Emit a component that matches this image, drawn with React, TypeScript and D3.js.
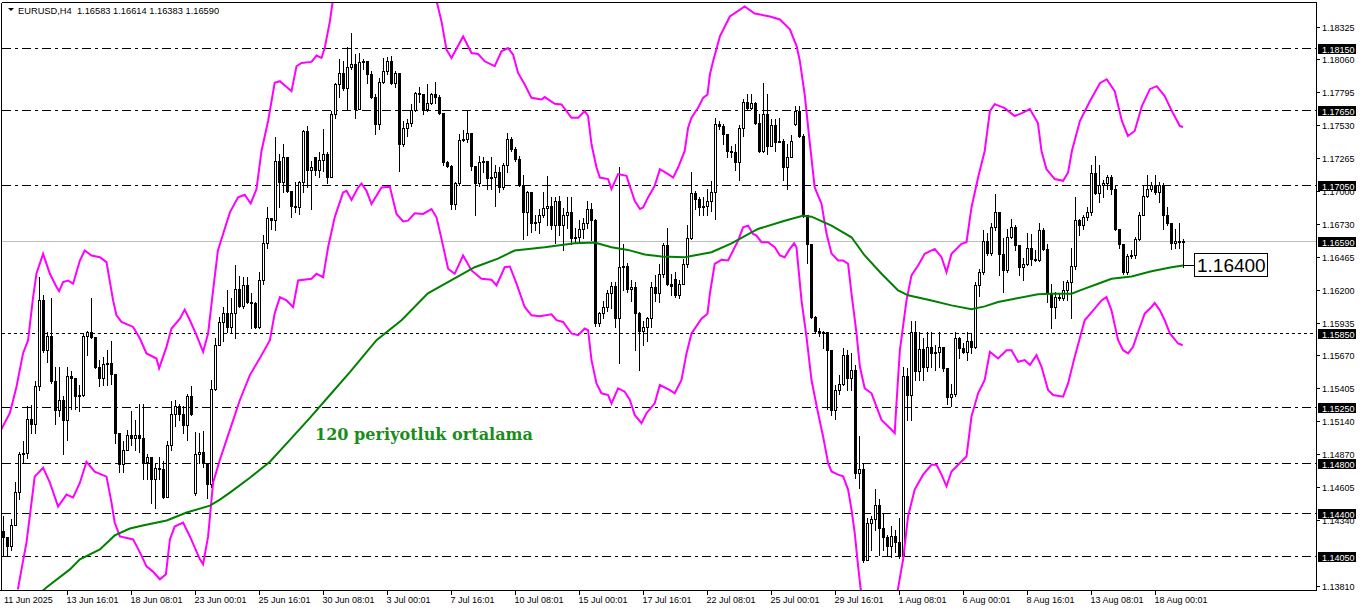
import React from "react";
import * as d3 from "d3";

// ---------------- DATA ----------------
const symbolTitle = "EURUSD,H4  1.16583 1.16614 1.16383 1.16590";

const closes = [
  1.1420, 1.1413, 1.1430, 1.1457, 1.1487, 1.1488, 1.1516, 1.1512, 1.1542, 1.1612,
  1.1571, 1.1583, 1.1546, 1.1523, 1.1531, 1.1515, 1.1550, 1.1549, 1.1534, 1.1535,
  1.1583, 1.1586, 1.1582, 1.1558, 1.1549, 1.1560, 1.1561, 1.1552, 1.1504, 1.1479,
  1.1491, 1.1503, 1.1500, 1.1503, 1.1500, 1.1481, 1.1485, 1.1467, 1.1476, 1.1475,
  1.1453, 1.1495, 1.1520, 1.1526, 1.1520, 1.1511, 1.1534, 1.1520, 1.1487, 1.1489,
  1.1480, 1.1463, 1.1540, 1.1575, 1.1594, 1.1601, 1.1590, 1.1601, 1.1621, 1.1607,
  1.1624, 1.1610, 1.1609, 1.1590, 1.1628, 1.1658, 1.1678, 1.1676, 1.1724, 1.1707,
  1.1727, 1.1700, 1.1688, 1.1687, 1.1707, 1.1748, 1.1717, 1.1719, 1.1717, 1.1725,
  1.1730, 1.1711, 1.1762, 1.1786, 1.1795, 1.1783, 1.1800, 1.1802, 1.1766, 1.1804,
  1.1805, 1.1794, 1.1776, 1.1754, 1.1788, 1.1797, 1.1805, 1.1787, 1.1795, 1.1738,
  1.1751, 1.1755, 1.1765, 1.1779, 1.1778, 1.1766, 1.1771, 1.1778, 1.1776, 1.1763,
  1.1723, 1.1720, 1.1689, 1.1706, 1.1741, 1.1742, 1.1747, 1.1720, 1.1706, 1.1723,
  1.1724, 1.1710, 1.1711, 1.1715, 1.1703, 1.1721, 1.1742, 1.1734, 1.1726, 1.1705,
  1.1683, 1.1699, 1.1674, 1.1675, 1.1680, 1.1686, 1.1688, 1.1672, 1.1692, 1.1672,
  1.1680, 1.1683, 1.1662, 1.1663, 1.1669, 1.1674, 1.1685, 1.1676, 1.1593, 1.1601,
  1.1606, 1.1617, 1.1623, 1.1597, 1.1638, 1.1639, 1.1621, 1.1622, 1.1601, 1.1587,
  1.1590, 1.1597, 1.1622, 1.1617, 1.1633, 1.1656, 1.1625, 1.1623, 1.1616, 1.1625,
  1.1641, 1.1662, 1.1698, 1.1693, 1.1687, 1.1688, 1.1692, 1.1699, 1.1754, 1.1752,
  1.1746, 1.1732, 1.1731, 1.1723, 1.1751, 1.1772, 1.1767, 1.1771, 1.1755, 1.1732,
  1.1762, 1.1736, 1.1753, 1.1739, 1.1740, 1.1719, 1.1727, 1.1740, 1.1764, 1.1744,
  1.1680, 1.1657, 1.1598, 1.1587, 1.1585, 1.1586, 1.1571, 1.1523, 1.1539, 1.1544,
  1.1567, 1.1549, 1.1555, 1.1472, 1.1475, 1.1402, 1.1432, 1.1435, 1.1446, 1.1428,
  1.1420, 1.1413, 1.1421, 1.1416, 1.1405, 1.1550, 1.1535, 1.1586, 1.1554, 1.1572,
  1.1558, 1.1574, 1.1569, 1.1570, 1.1574, 1.1557, 1.1533, 1.1536, 1.1581, 1.1573,
  1.1570, 1.1579, 1.1574, 1.1624, 1.1634, 1.1659, 1.1650, 1.1671, 1.1683, 1.1649,
  1.1636, 1.1663, 1.1671, 1.1656, 1.1638, 1.1641, 1.1654, 1.1645, 1.1644, 1.1668,
  1.1653, 1.1617, 1.1606, 1.1614, 1.1613, 1.1620, 1.1626, 1.1639, 1.1676, 1.1672,
  1.1679, 1.1683, 1.1714, 1.1698, 1.1705, 1.1706, 1.1711, 1.1701, 1.1669, 1.1657,
  1.1634, 1.1647, 1.1648, 1.1661, 1.1680, 1.1696, 1.1701, 1.1705, 1.1699, 1.1705,
  1.1680, 1.1674, 1.1658, 1.1659, 1.16583, 1.16590,
];

const highs = [
  1.1437, 1.1420, 1.1435, 1.1465, 1.1489, 1.1498, 1.1526, 1.1527, 1.1546, 1.1630,
  1.1616, 1.1586, 1.1613, 1.1558, 1.1558, 1.1534, 1.1558, 1.1554, 1.1539, 1.1543,
  1.1585, 1.1587, 1.1613, 1.1582, 1.1563, 1.1566, 1.1571, 1.1579, 1.1552, 1.1504,
  1.1498, 1.1507, 1.1522, 1.1515, 1.1528, 1.1528, 1.1487, 1.1479, 1.1480, 1.1485,
  1.1482, 1.1498, 1.1530, 1.1531, 1.1528, 1.1526, 1.1536, 1.1542, 1.1505, 1.1504,
  1.1506, 1.1480, 1.1547, 1.1581, 1.1598, 1.1606, 1.1620, 1.1613, 1.1640, 1.1631,
  1.1630, 1.1630, 1.1617, 1.1610, 1.1634, 1.1664, 1.1687, 1.1678, 1.1743, 1.1730,
  1.1738, 1.1727, 1.1699, 1.1707, 1.1708, 1.1749, 1.1752, 1.1724, 1.1727, 1.1731,
  1.1750, 1.1731, 1.1764, 1.1787, 1.1806, 1.1805, 1.1816, 1.1827, 1.1810, 1.1811,
  1.1806, 1.1805, 1.1797, 1.1778, 1.1791, 1.1807, 1.1808, 1.1809, 1.1797, 1.1795,
  1.1756, 1.1758, 1.1770, 1.1780, 1.1784, 1.1775, 1.1786, 1.1779, 1.1788, 1.1777,
  1.1763, 1.1724, 1.1721, 1.1707, 1.1746, 1.1749, 1.1764, 1.1747, 1.1720, 1.1728,
  1.1727, 1.1724, 1.1727, 1.1721, 1.1719, 1.1722, 1.1747, 1.1743, 1.1735, 1.1728,
  1.1713, 1.1700, 1.1697, 1.1680, 1.1685, 1.1699, 1.1712, 1.1695, 1.1695, 1.1696,
  1.1686, 1.1695, 1.1695, 1.1670, 1.1676, 1.1678, 1.1692, 1.1690, 1.1677, 1.1602,
  1.1611, 1.1620, 1.1626, 1.1626, 1.1719, 1.1657, 1.1642, 1.1628, 1.1626, 1.1602,
  1.1595, 1.1598, 1.1626, 1.1632, 1.1641, 1.1658, 1.1670, 1.1633, 1.1634, 1.1628,
  1.1645, 1.1672, 1.1715, 1.1700, 1.1695, 1.1695, 1.1701, 1.1708, 1.1759, 1.1756,
  1.1754, 1.1746, 1.1736, 1.1738, 1.1753, 1.1774, 1.1778, 1.1778, 1.1772, 1.1762,
  1.1787, 1.1778, 1.1758, 1.1758, 1.1759, 1.1742, 1.1738, 1.1745, 1.1768, 1.1768,
  1.1746, 1.1680, 1.1657, 1.1599, 1.1589, 1.1587, 1.1586, 1.1571, 1.1543, 1.1551,
  1.1573, 1.1571, 1.1569, 1.1559, 1.1502, 1.1479, 1.1436, 1.1437, 1.1459, 1.1451,
  1.1440, 1.1422, 1.1429, 1.1426, 1.1436, 1.1558, 1.1557, 1.1595, 1.1595, 1.1586,
  1.1581, 1.1586, 1.1586, 1.1575, 1.1586, 1.1574, 1.1557, 1.1544, 1.1586, 1.1582,
  1.1577, 1.1586, 1.1585, 1.1626, 1.1637, 1.1668, 1.1666, 1.1674, 1.1697, 1.1683,
  1.1662, 1.1669, 1.1677, 1.1672, 1.1656, 1.1646, 1.1666, 1.1665, 1.1652, 1.1674,
  1.1670, 1.1657, 1.1625, 1.1618, 1.1617, 1.1627, 1.1628, 1.1654, 1.1695, 1.1677,
  1.1680, 1.1687, 1.1721, 1.1728, 1.1721, 1.1709, 1.1713, 1.1713, 1.1704, 1.1669,
  1.1657, 1.1649, 1.1652, 1.1663, 1.1683, 1.1705, 1.1713, 1.1707, 1.1713, 1.1707,
  1.1706, 1.1687, 1.1674, 1.1669, 1.1674, 1.16614,
];

const lows = [
  1.1405, 1.1405, 1.1410, 1.1430, 1.1451, 1.1480, 1.1484, 1.1504, 1.1504, 1.1539,
  1.1570, 1.1562, 1.1545, 1.1512, 1.1518, 1.1487, 1.1499, 1.1524, 1.1524, 1.1522,
  1.1534, 1.1567, 1.1581, 1.1557, 1.1542, 1.1543, 1.1543, 1.1544, 1.1496, 1.1473,
  1.1473, 1.1491, 1.1495, 1.1491, 1.1489, 1.1467, 1.1467, 1.1448, 1.1444, 1.1467,
  1.1452, 1.1453, 1.1491, 1.1510, 1.1515, 1.1504, 1.1499, 1.1519, 1.1454, 1.1480,
  1.1477, 1.1452, 1.1461, 1.1539, 1.1575, 1.1579, 1.1586, 1.1586, 1.1581, 1.1606,
  1.1605, 1.1609, 1.1589, 1.1589, 1.1589, 1.1625, 1.1654, 1.1669, 1.1668, 1.1687,
  1.1699, 1.1699, 1.1679, 1.1683, 1.1681, 1.1699, 1.1703, 1.1685, 1.1713, 1.1711,
  1.1716, 1.1706, 1.1711, 1.1759, 1.1776, 1.1781, 1.1766, 1.1798, 1.1759, 1.1766,
  1.1798, 1.1787, 1.1775, 1.1746, 1.1750, 1.1787, 1.1794, 1.1786, 1.1784, 1.1716,
  1.1736, 1.1744, 1.1752, 1.1764, 1.1772, 1.1762, 1.1764, 1.1770, 1.1771, 1.1762,
  1.1721, 1.1719, 1.1685, 1.1685, 1.1705, 1.1740, 1.1739, 1.1717, 1.1680, 1.1704,
  1.1715, 1.1701, 1.1701, 1.1688, 1.1699, 1.1701, 1.1715, 1.1732, 1.1724, 1.1704,
  1.1661, 1.1664, 1.1667, 1.1668, 1.1666, 1.1679, 1.1672, 1.1669, 1.1658, 1.1664,
  1.1652, 1.1670, 1.1657, 1.1658, 1.1658, 1.1662, 1.1670, 1.1660, 1.1591, 1.1591,
  1.1597, 1.1603, 1.1605, 1.1590, 1.1561, 1.1620, 1.1618, 1.1611, 1.1571, 1.1555,
  1.1575, 1.1579, 1.1590, 1.1611, 1.1610, 1.1630, 1.1624, 1.1616, 1.1614, 1.1613,
  1.1625, 1.1638, 1.1661, 1.1685, 1.1680, 1.1680, 1.1680, 1.1684, 1.1677, 1.1750,
  1.1738, 1.1727, 1.1727, 1.1717, 1.1709, 1.1744, 1.1765, 1.1766, 1.1754, 1.1731,
  1.1731, 1.1730, 1.1736, 1.1732, 1.1739, 1.1709, 1.1701, 1.1727, 1.1753, 1.1743,
  1.1679, 1.1642, 1.1597, 1.1585, 1.1583, 1.1573, 1.1524, 1.1519, 1.1516, 1.1536,
  1.1543, 1.1539, 1.1539, 1.1468, 1.1460, 1.1400, 1.1402, 1.1410, 1.1426, 1.1406,
  1.1410, 1.1405, 1.1404, 1.1408, 1.1403, 1.1402, 1.1515, 1.1515, 1.1547, 1.1547,
  1.1547, 1.1554, 1.1558, 1.1555, 1.1558, 1.1554, 1.1528, 1.1526, 1.1534, 1.1565,
  1.1569, 1.1563, 1.1569, 1.1573, 1.1615, 1.1633, 1.1648, 1.1648, 1.1668, 1.1632,
  1.1618, 1.1634, 1.1662, 1.1652, 1.1632, 1.1628, 1.1640, 1.1640, 1.1643, 1.1643,
  1.1652, 1.1610, 1.1589, 1.1597, 1.1612, 1.1612, 1.1612, 1.1597, 1.1637, 1.1664,
  1.1669, 1.1676, 1.1680, 1.1697, 1.1691, 1.1695, 1.1701, 1.1697, 1.1668, 1.1654,
  1.1633, 1.1633, 1.1646, 1.1646, 1.1660, 1.1680, 1.1695, 1.1700, 1.1697, 1.1691,
  1.1669, 1.1672, 1.1653, 1.1654, 1.1654, 1.16383,
];

// opens that differ from the previous close (session gaps / first bar)
const gapOpens: Record<number, number> = {
  0: 1.1425, 48: 1.1456, 78: 1.1727, 168: 1.1629, 198: 1.1754, 295: 1.16583,
};

// 120-period moving average, [bar index, price]
const maPoints: [number, number][] = [
  [9.1, 1.13749], [10.8, 1.13798], [16.6, 1.13942], [19.1, 1.14023], [24.1, 1.14103],
  [27.8, 1.14216], [31.6, 1.14272], [34.8, 1.14296], [40.8, 1.14337], [45.8, 1.14401],
  [51.6, 1.14457], [54.1, 1.14505], [56.6, 1.14562], [61.6, 1.14682], [66.6, 1.14811],
  [71.6, 1.14988], [76.6, 1.15165], [81.6, 1.1535], [86.6, 1.15535], [93.25, 1.15793],
  [99.5, 1.15954], [106.1, 1.16171], [111.1, 1.16262], [117.8, 1.16382], [123.6, 1.16452],
  [127.8, 1.16517], [135.3, 1.16543], [142.8, 1.16575], [147.8, 1.16581], [152, 1.16543],
  [156.1, 1.16522], [160.3, 1.16485], [164.5, 1.16468], [170.3, 1.16463], [177, 1.16503],
  [182, 1.16575], [188.6, 1.16691], [195.3, 1.16758], [199.8, 1.16798], [202, 1.1679],
  [207, 1.16718], [212, 1.16624], [215.3, 1.16477], [219.5, 1.16329], [223.65, 1.16195],
  [226.15, 1.16155], [232, 1.16114], [237, 1.16074], [242, 1.16042], [245.3, 1.16066],
  [248.65, 1.16101], [252.8, 1.16128], [258.6, 1.16163], [262, 1.16168], [267, 1.16168],
  [270.3, 1.16209], [273.65, 1.16249], [277, 1.16289], [282, 1.16308], [287, 1.1635],
  [292, 1.16382], [294.9, 1.16396],
];

// Bollinger upper band, [bar index, price]
const upperBand: [number, number][] = [
  [-1, 1.15045], [1.6, 1.15205], [3.25, 1.15417], [4.9, 1.15688], [6.15, 1.15793], [7.4, 1.16141],
  [8.25, 1.16332], [9.9, 1.1649], [11.6, 1.16329], [13.25, 1.16222], [13.9, 1.16189], [14.9, 1.16262],
  [16.15, 1.16275], [17.4, 1.16249], [19.1, 1.16436], [20.3, 1.16517], [22, 1.16477], [24.1, 1.16463],
  [25.75, 1.16423], [27.4, 1.16114], [28.25, 1.15994], [29.5, 1.1594], [32.4, 1.159], [34.1, 1.15806],
  [35.75, 1.15686], [38.25, 1.15645], [38.9, 1.15565], [40.75, 1.15739], [42, 1.15887], [44.1, 1.15967],
  [45.3, 1.1604], [46.6, 1.15954], [48.25, 1.15833], [49.9, 1.15699], [51.15, 1.15847], [52.4, 1.16195],
  [53.6, 1.16517], [56.6, 1.16825], [58.65, 1.16946], [60.3, 1.16967], [61.8, 1.16897], [63.25, 1.17013],
  [64.5, 1.17321], [66.15, 1.17563], [67.8, 1.17871], [69.1, 1.17884], [72, 1.17804], [73.25, 1.18005],
  [74.5, 1.18032], [77, 1.1804], [78.25, 1.18091], [79.5, 1.18072], [80.3, 1.18152], [81.6, 1.18367],
  [82.3, 1.18528], [86.6, 1.18729], [91.6, 1.1889], [96.6, 1.1893], [101.6, 1.1885], [106.6, 1.18625],
  [108.3, 1.18528], [109.5, 1.18367], [110.75, 1.18139], [112, 1.18072], [114.9, 1.18246], [117, 1.18112],
  [118.65, 1.18104], [120.3, 1.18045], [122.8, 1.18005], [124.5, 1.18126], [126.15, 1.18152], [127.4, 1.18099],
  [128.65, 1.17951], [130.3, 1.17858], [132, 1.1775], [134.5, 1.17737], [135.3, 1.17756], [137.8, 1.17702],
  [139.5, 1.17697], [142, 1.17589], [143.65, 1.17589], [145.3, 1.17643], [146.15, 1.17603], [147, 1.17375],
  [148.25, 1.17187], [149.1, 1.17106], [151.15, 1.17094], [152, 1.17013], [153.65, 1.17134], [155.75, 1.1712],
  [157.8, 1.16919], [159.1, 1.16852], [159.9, 1.16865], [161.15, 1.16946], [162.8, 1.1704], [164.1, 1.17174],
  [166.15, 1.17134], [167.4, 1.17106], [168.65, 1.17187], [170.3, 1.17321], [171.15, 1.17509], [172, 1.17589],
  [173.65, 1.1767], [174.9, 1.1775], [176, 1.17777], [176.6, 1.17938], [177.4, 1.18045], [179.1, 1.18246],
  [181.6, 1.18407], [185.3, 1.18488], [187.8, 1.18431], [191.6, 1.18407], [194.1, 1.18383], [196.6, 1.18303],
  [198.3, 1.18166], [199.1, 1.18045], [200.3, 1.17777], [201.6, 1.17378], [202.8, 1.17026], [204.5, 1.16895],
  [205.75, 1.16654], [207, 1.16493], [208.65, 1.16436], [209.9, 1.16436], [211.15, 1.1641], [212, 1.16168],
  [213.25, 1.15849], [214.1, 1.15578], [215.3, 1.15404], [217, 1.15364], [219.5, 1.15149], [222, 1.15069],
  [222.8, 1.15042], [223.25, 1.15286], [224.1, 1.15712], [225.75, 1.16114], [227, 1.16316], [228.65, 1.16396],
  [230.3, 1.1649], [232.8, 1.1653], [234.5, 1.16463], [235.75, 1.16342], [237, 1.1649], [239.5, 1.16571],
  [240.75, 1.16584], [242, 1.16865], [243.65, 1.17106], [245.3, 1.17321], [246.6, 1.17643], [247.8, 1.17699],
  [250.3, 1.17667], [252.8, 1.17603], [254.6, 1.17627], [256.6, 1.17659], [258.6, 1.17547], [259.5, 1.17321],
  [260.75, 1.17174], [262.8, 1.17094], [264.9, 1.1708], [266.15, 1.17147], [267.1, 1.17321], [269.1, 1.17563],
  [271.6, 1.17723], [274.1, 1.17868], [275.8, 1.179], [277.8, 1.17804], [279.6, 1.17563], [281.1, 1.17442],
  [282.8, 1.17482], [284.6, 1.17683], [286.6, 1.1782], [288.3, 1.17844], [290.3, 1.17764], [292.1, 1.17643],
  [294.1, 1.17522], [294.9, 1.17514],
];

// Bollinger lower band, [bar index, price]
const lowerBand: [number, number][] = [
  [3.6, 1.13781], [4.5, 1.13942], [5.75, 1.1416], [7, 1.14481], [7.8, 1.14691], [9.9, 1.14763],
  [11.6, 1.14642], [13.65, 1.14449], [15.75, 1.14546], [17.4, 1.14522], [19.1, 1.14642], [20.75, 1.14811],
  [22.8, 1.14731], [25.75, 1.14691], [27, 1.14481], [27.8, 1.1432], [29.1, 1.14208], [32.4, 1.14184],
  [34.1, 1.14079], [35.75, 1.13966], [37.3, 1.13926], [39.1, 1.13862], [40.6, 1.13902], [41.6, 1.14184],
  [42.8, 1.14288], [44.9, 1.1432], [46.6, 1.14208], [49.1, 1.14023], [49.9, 1.13983], [51.15, 1.14208],
  [52.4, 1.14642], [54.1, 1.14827], [56.6, 1.15069], [59.1, 1.1531], [61.6, 1.15511], [64.1, 1.15648],
  [66.6, 1.15793], [67.8, 1.1601], [69.1, 1.16141], [70.75, 1.16114], [72.4, 1.16061], [73.65, 1.16275],
  [77, 1.16289], [78.25, 1.16329], [79.9, 1.16302], [81.15, 1.16543], [82.8, 1.16785], [84.9, 1.16986],
  [85.75, 1.16999], [87, 1.16925], [88.65, 1.17026], [89.5, 1.17058], [90.75, 1.16999], [92, 1.16892],
  [94.5, 1.17026], [96.6, 1.17032], [98.25, 1.16812], [99.9, 1.16752], [101.15, 1.16758], [102.8, 1.16817],
  [104.9, 1.16812], [107, 1.16852], [108.25, 1.16785], [109.5, 1.16611], [111.15, 1.1637], [112.8, 1.16329],
  [114.9, 1.16477], [117, 1.16356], [119.5, 1.16289], [122, 1.16281], [123.25, 1.16235], [125.3, 1.16382],
  [126.6, 1.16388], [128.25, 1.16249], [130.3, 1.16061], [132, 1.15994], [134.1, 1.15986], [137, 1.16002],
  [138.25, 1.15954], [139.9, 1.1594], [142, 1.15847], [143.65, 1.15833], [145.3, 1.15887], [146.15, 1.15873],
  [147, 1.15632], [148.25, 1.15444], [149.5, 1.15364], [151.15, 1.1535], [152, 1.15283], [153.65, 1.15404],
  [155.3, 1.15377], [156.6, 1.1531], [157.8, 1.15189], [159.5, 1.15123], [160.75, 1.15203], [162.8, 1.15283],
  [164.1, 1.15431], [166.6, 1.1539], [167.8, 1.15364], [169.5, 1.15471], [170.75, 1.15686], [172, 1.15847],
  [174.5, 1.15967], [176, 1.16007], [176.6, 1.16168], [177.8, 1.1641], [179.5, 1.16442], [181.15, 1.16436],
  [182.4, 1.16517], [183.65, 1.16597], [184.9, 1.16704], [186.15, 1.16718], [187.4, 1.16651], [188.25, 1.16637],
  [189.5, 1.16584], [191.15, 1.16584], [192.8, 1.16543], [194.1, 1.16477], [195.3, 1.16463], [196.6, 1.1653],
  [197.65, 1.16575], [198.25, 1.16543], [199.5, 1.16114], [200.75, 1.15819], [202, 1.15471], [203.65, 1.15203],
  [204.9, 1.15015], [206.15, 1.14801], [207, 1.14733], [208.65, 1.14707], [209.9, 1.14693], [211.15, 1.14586],
  [212, 1.14425], [212.8, 1.14238], [213.65, 1.13969], [214.3, 1.13781], [216.6, 1.1354], [219.1, 1.13379],
  [221.6, 1.1346], [223.6, 1.13781], [224.9, 1.14023], [226.15, 1.14371], [227.8, 1.14586], [229.9, 1.14707],
  [232, 1.14787], [233.25, 1.14787], [234.5, 1.14707], [235.75, 1.14613], [237, 1.14733], [239.1, 1.14801],
  [240.75, 1.14854], [242, 1.15176], [243.65, 1.15364], [245.3, 1.15471], [246.6, 1.15699], [248.65, 1.15645],
  [250.75, 1.15712], [252, 1.15712], [253.65, 1.15618], [255.3, 1.15632], [256.6, 1.15592], [258.25, 1.15672],
  [259.5, 1.15578], [261.15, 1.1539], [262.4, 1.1535], [264.9, 1.15337], [266.15, 1.15444], [267.8, 1.15658],
  [270.3, 1.15954], [272.8, 1.16048], [274.5, 1.16114], [275.75, 1.16141], [277, 1.16034], [278.65, 1.15793],
  [279.9, 1.15712], [281.15, 1.15686], [282.4, 1.15739], [283.65, 1.15859], [285.3, 1.16007], [287, 1.16061],
  [287.8, 1.16093], [289.1, 1.16034], [290.3, 1.15954], [291.6, 1.15847], [293.65, 1.15766], [294.8, 1.15752],
];

const levelPrices = [1.1815, 1.1765, 1.1705, 1.1585, 1.1525, 1.148, 1.144, 1.1405];
const dottedLevels = [1.1585];
const priceTicks = [
  1.18325, 1.1806, 1.17795, 1.1753, 1.17265, 1.17, 1.1673, 1.16465, 1.162, 1.15935,
  1.1567, 1.15405, 1.1514, 1.1487, 1.14605, 1.1434, 1.1381,
];
const timeLabels = [
  "11 Jun 2025", "13 Jun 16:01", "18 Jun 08:01", "23 Jun 00:01", "25 Jun 16:01",
  "30 Jun 08:01", "3 Jul 00:01", "7 Jul 16:01", "10 Jul 08:01", "15 Jul 00:01",
  "17 Jul 16:01", "22 Jul 08:01", "25 Jul 00:01", "29 Jul 16:01", "1 Aug 08:01",
  "6 Aug 00:01", "8 Aug 16:01", "13 Aug 08:01", "18 Aug 00:01",
];
const barsPerLabel = 16;
const maLabelText = "120 periyotluk ortalama";
const maLastValue = 1.164;

// ---------------- CHART ----------------
const W = 1362;
const H = 611;
const L = 2, T = 3, R = 1316, B = 590;
const AXIS_FONT = "'Liberation Sans', Arial, sans-serif";
const AXIS_SIZE = 9;

export default function App() {
  const y = d3.scaleLinear().domain([1.1405, 1.1815]).range([556, 48.3]);
  const x = d3.scaleLinear().domain([0, 1]).range([3.5, 7.5]);
  const ry = (p: number) => Math.round(y(p));

  const n = closes.length;
  const opens = closes.map((c, i) => (gapOpens[i] !== undefined ? gapOpens[i] : i > 0 ? closes[i - 1] : c));

  const line = d3
    .line<[number, number]>()
    .x((d) => x(d[0]))
    .y((d) => y(d[1]));

  const candles = closes.map((c, i) => {
    const o = opens[i];
    const h = Math.max(highs[i], o, c);
    const l = Math.min(lows[i], o, c);
    const cx = x(i);
    const yH = ry(h), yL = ry(l), yO = ry(o), yC = ry(c);
    const top = Math.min(yO, yC), bot = Math.max(yO, yC);
    let body: React.ReactNode;
    if (top === bot) {
      body = <rect x={cx - 1.5} y={top} width={3} height={1} fill="#000" />;
    } else if (c > o) {
      body = (
        <rect x={cx - 1} y={top + 0.5} width={2} height={bot - top} fill="#fff" stroke="#000" strokeWidth={1} />
      );
    } else {
      body = <rect x={cx - 1.5} y={top} width={3} height={bot - top + 1} fill="#000" />;
    }
    return (
      <g key={i}>
        <rect x={cx - 0.5} y={yH} width={1} height={yL - yH + 1} fill="#000" />
        {body}
      </g>
    );
  });

  const lastClose = closes[n - 1];
  const boxPrices = [...levelPrices, lastClose];
  const lastX = x(n - 1);
  const maLabelY = ry(maLastValue);

  return (
    <div style={{ position: "fixed", left: 0, top: 0, width: W, height: H, background: "#fff" }}>
      <svg width={W} height={H} style={{ display: "block" }}>
        <defs>
          <clipPath id="plot">
            <rect x={L} y={T} width={R - L} height={B - T} />
          </clipPath>
        </defs>
        <rect x={0} y={0} width={W} height={H} fill="#fff" />

        <g clipPath="url(#plot)">
          {levelPrices.map((p) => (
            <line
              key={p}
              x1={L}
              x2={R}
              y1={ry(p) + 0.5}
              y2={ry(p) + 0.5}
              stroke="#000"
              strokeWidth={1}
              strokeDasharray={dottedLevels.includes(p) ? "3,3" : "9,4,3,4"}
              shapeRendering="crispEdges"
            />
          ))}
          <line x1={L} x2={R} y1={ry(lastClose) + 0.5} y2={ry(lastClose) + 0.5} stroke="#c0c0c0" strokeWidth={1} shapeRendering="crispEdges" />

          <g shapeRendering="crispEdges">{candles}</g>

          <path d={line(upperBand) || ""} fill="none" stroke="#ff00ff" strokeWidth={2} />
          <path d={line(lowerBand) || ""} fill="none" stroke="#ff00ff" strokeWidth={2} />
          <path d={line(maPoints) || ""} fill="none" stroke="#008000" strokeWidth={2} />
        </g>

        <g shapeRendering="crispEdges" stroke="#000" strokeWidth={1}>
          <line x1={L - 0.5} x2={R + 0.5} y1={T - 0.5} y2={T - 0.5} />
          <line x1={L - 0.5} x2={L - 0.5} y1={T - 0.5} y2={B + 0.5} />
          <line x1={R + 0.5} x2={R + 0.5} y1={T - 0.5} y2={B + 0.5} />
          <line x1={0} x2={R + 0.5} y1={B + 0.5} y2={B + 0.5} />
        </g>

        <path d="M8,8 L14,8 L11,11 Z" fill="#000" />
        <text x={18} y={14} fontFamily={AXIS_FONT} fontSize={9.3} fill="#000" style={{ whiteSpace: "pre" }}>
          {symbolTitle}
        </text>

        <text
          x={315}
          y={440}
          fontFamily="'DejaVu Serif', serif"
          fontWeight="bold"
          fontSize={17}
          fill="#1a8c1a"
          textLength={218}
          lengthAdjust="spacingAndGlyphs"
        >
          {maLabelText}
        </text>

        <line x1={lastX} x2={1195} y1={maLabelY + 0.5} y2={maLabelY + 0.5} stroke="#000" shapeRendering="crispEdges" />
        <rect x={1194.5} y={253.5} width={73} height={23} fill="#fff" stroke="#000" shapeRendering="crispEdges" />
        <text x={1197} y={272} fontFamily={AXIS_FONT} fontSize={19} fill="#000">
          {maLastValue.toFixed(5)}
        </text>

        {priceTicks.map((p) => (
          <g key={p}>
            <line x1={R} x2={R + 4} y1={ry(p) + 0.5} y2={ry(p) + 0.5} stroke="#000" shapeRendering="crispEdges" />
            <text x={R + 6} y={ry(p) + 4} fontFamily={AXIS_FONT} fontSize={AXIS_SIZE} fill="#000">
              {p.toFixed(5)}
            </text>
          </g>
        ))}
        {boxPrices.map((p) => (
          <g key={"b" + p}>
            <rect x={R + 2} y={ry(p) - 4} width={38} height={10} fill="#000" />
            <text x={R + 6} y={ry(p) + 4.5} fontFamily={AXIS_FONT} fontSize={AXIS_SIZE} fill="#fff">
              {p.toFixed(5)}
            </text>
          </g>
        ))}

        {timeLabels.map((t, k) => {
          const tx = x(k * barsPerLabel);
          return (
            <g key={t}>
              {k > 0 && (
                <line x1={tx} x2={tx} y1={B} y2={B + 5} stroke="#000" shapeRendering="crispEdges" />
              )}
              <text x={k === 0 ? 4 : tx - 1} y={603} fontFamily={AXIS_FONT} fontSize={AXIS_SIZE} fill="#000">
                {t}
              </text>
            </g>
          );
        })}
      </svg>
    </div>
  );
}
